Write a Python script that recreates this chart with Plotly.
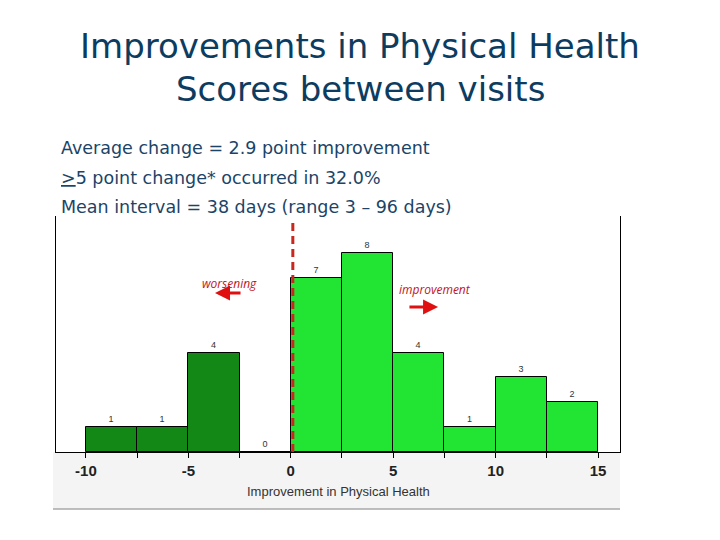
import plotly.graph_objects as go

# ---- data ----
bin_left = [-10, -7.5, -5, -2.5, 0, 2.5, 5, 7.5, 10, 12.5]
counts = [1, 1, 4, 0, 7, 8, 4, 1, 3, 2]
bin_width = 2.5
group = ["worse", "worse", "worse", "worse", "better", "better", "better", "better", "better", "better"]
tick_vals = [-10, -7.5, -5, -2.5, 0, 2.5, 5, 7.5, 10, 12.5, 15]
tick_text = ["-10", "", "-5", "", "0", "", "5", "", "10", "", "15"]
title_lines = ["Improvements in Physical Health", "Scores between visits"]
info_lines = [
    "Average change = 2.9 point improvement",
    "<u>></u>5 point change* occurred in 32.0%",
    "Mean interval = 38 days (range 3 \u2013 96 days)",
]
x_label = "Improvement in Physical Health"
ref_value = 0.1

# ---- styling ----
W, H = 720, 540
L, R, T, B = 56, 620, 216, 452
pw, ph = R - L, B - T
colors = {"worse": "#138817", "better": "#22e533"}
title_color = "#0d3c61"
text_color = "#1b4468"

def px_x(px):
    return (px - L) / pw

def px_y(py):
    return (B - py) / ph

centers = [b + bin_width / 2 for b in bin_left]

fig = go.Figure()
fig.add_trace(go.Bar(
    x=centers, y=counts, width=[bin_width] * len(counts),
    marker=dict(color=[colors[g] for g in group], line=dict(color="black", width=1)),
    text=[str(c) for c in counts], textposition="outside",
    textfont=dict(family="Liberation Sans, Arial", size=9, color="#333333"),
    constraintext="none", cliponaxis=False, showlegend=False, hoverinfo="skip",
))

shapes = [
    # gray strip under the axis
    dict(type="rect", xref="paper", yref="paper", x0=px_x(53), x1=px_x(620),
         y0=px_y(509), y1=0, fillcolor="#f4f4f4", line=dict(width=0), layer="below"),
    dict(type="line", xref="paper", yref="paper", x0=px_x(53), x1=px_x(620),
         y0=px_y(509), y1=px_y(509), line=dict(color="#a8a8a8", width=1.5)),
    # dashed reference line
    dict(type="line", xref="x", yref="y", x0=ref_value, x1=ref_value, y0=0, y1=9.26,
         line=dict(color="#c8281e", width=3, dash="8px,5px"), layer="above"),
]

annotations = []
for i, line in enumerate(title_lines):
    annotations.append(dict(
        text=line, xref="paper", yref="paper", x=px_x(360), y=px_y(45.5 + 43 * i),
        xanchor="center", yanchor="middle", showarrow=False,
        font=dict(family="DejaVu Sans", size=34, color=title_color)))
for i, line in enumerate(info_lines):
    annotations.append(dict(
        text=line, xref="paper", yref="paper", x=px_x(59), y=px_y(148 + 29.5 * i),
        xanchor="left", yanchor="middle", showarrow=False,
        font=dict(family="DejaVu Sans", size=17.5, color=text_color)))
annotations.append(dict(
    text=x_label, xref="paper", yref="paper", x=0.5, y=px_y(491),
    xanchor="center", yanchor="middle", showarrow=False,
    font=dict(family="Liberation Sans, Arial", size=13, color="#333333")))
# direction labels
annotations.append(dict(text="<i>worsening</i>", x=-2.97, y=6.8, xref="x", yref="y",
                        showarrow=False, font=dict(family="Open Sans", size=12, color="#c0161c")))
annotations.append(dict(text="<i>improvement</i>", x=7.04, y=6.55, xref="x", yref="y",
                        showarrow=False, font=dict(family="Open Sans", size=12, color="#c0161c")))
annotations.append(dict(text="", x=-3.70, y=6.40, ax=-2.38, ay=6.40, xref="x", yref="y",
                        axref="x", ayref="y", showarrow=True, arrowhead=2, arrowsize=1,
                        arrowwidth=3, arrowcolor="#e01010"))
annotations.append(dict(text="", x=7.19, y=5.84, ax=5.72, ay=5.84, xref="x", yref="y",
                        axref="x", ayref="y", showarrow=True, arrowhead=2, arrowsize=1,
                        arrowwidth=3, arrowcolor="#e01010"))

fig.update_layout(
    width=W, height=H,
    margin=dict(l=L, r=W - R, t=T, b=H - B, autoexpand=False),
    paper_bgcolor="white", plot_bgcolor="white",
    bargap=0,
    shapes=shapes, annotations=annotations,
    xaxis=dict(range=[-11.46, 16.07], showgrid=False, zeroline=False,
               showline=True, linecolor="black", linewidth=1,
               ticks="outside", ticklen=5, tickcolor="black", tickwidth=1,
               tickvals=tick_vals, ticktext=tick_text, ticklabelstandoff=0,
               tickfont=dict(family="Liberation Sans, Arial", size=15, color="#222222", weight="bold")),
    yaxis=dict(range=[0, 9.5], showgrid=False, zeroline=False,
               showline=True, mirror=True, linecolor="black", linewidth=1,
               ticks="", showticklabels=False),
)

fig.write_html("out.html")
